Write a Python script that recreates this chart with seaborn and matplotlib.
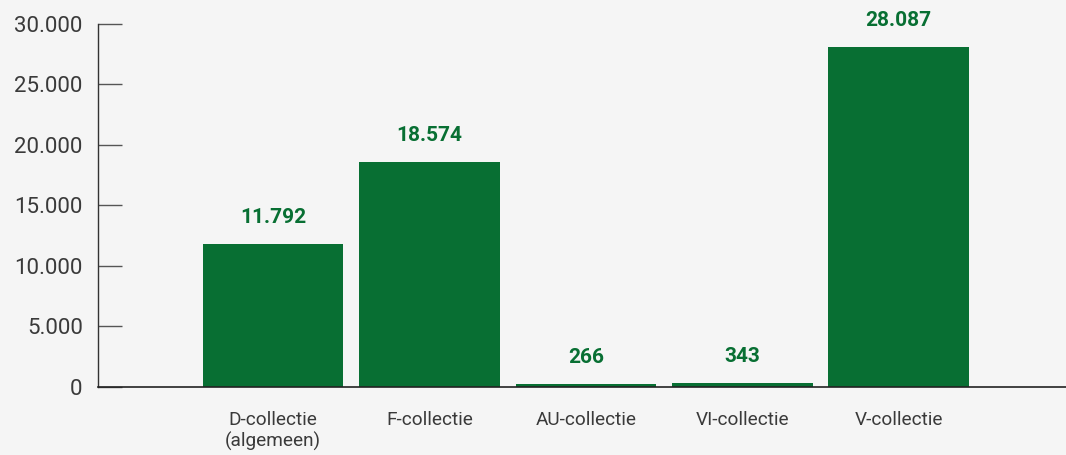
import matplotlib
matplotlib.use("Agg")
import matplotlib.pyplot as plt
import seaborn as sns
import pandas as pd

# data
collecties = ["D-collectie\n(algemeen)", "F-collectie", "AU-collectie", "VI-collectie", "V-collectie"]
aantallen = [11792, 18574, 266, 343, 28087]
yticks = [0, 5000, 10000, 15000, 20000, 25000, 30000]

groen = "#086f33"
achtergrond = "#f5f5f5"

sns.set_style("white")
plt.rcParams["font.family"] = ["Roboto", "DejaVu Sans"]

df = pd.DataFrame({"collectie": collecties, "aantal": aantallen})

fig = plt.figure(figsize=(10.66, 4.55), dpi=100, facecolor=achtergrond)
ax = fig.add_axes([0.0919, 0.1495, 0.9081, 0.7978])
ax.set_facecolor(achtergrond)

sns.barplot(data=df, x="collectie", y="aantal", color=groen, saturation=1, width=0.9,
            linewidth=0, ax=ax)

for i, v in enumerate(aantallen):
    ax.annotate(f"{v:,}".replace(",", "."), (i, v), xytext=(0, 17), textcoords="offset pixels",
                ha="center", va="bottom", color=groen, fontsize=15, fontweight="bold")

ax.set_xlim(-1.12, 5.07)
ax.set_ylim(0, 30000)
ax.set_yticks(yticks)
ax.set_yticklabels([f"{t:,}".replace(",", ".") for t in yticks])
ax.set_xlabel("")
ax.set_ylabel("")

sns.despine(ax=ax, top=True, right=True)
ax.spines["left"].set_color("#333333")
ax.spines["bottom"].set_color("#222222")
ax.spines["left"].set_linewidth(1)
ax.spines["bottom"].set_linewidth(1.2)

ax.tick_params(axis="y", direction="in", length=17, width=1, color="#555555",
               labelsize=16, labelcolor="#3a3a3a", pad=11, left=True)
ax.tick_params(axis="x", length=0, labelsize=13.7, labelcolor="#3a3a3a", pad=17)

fig.savefig("out.png", dpi=100, facecolor=achtergrond)
